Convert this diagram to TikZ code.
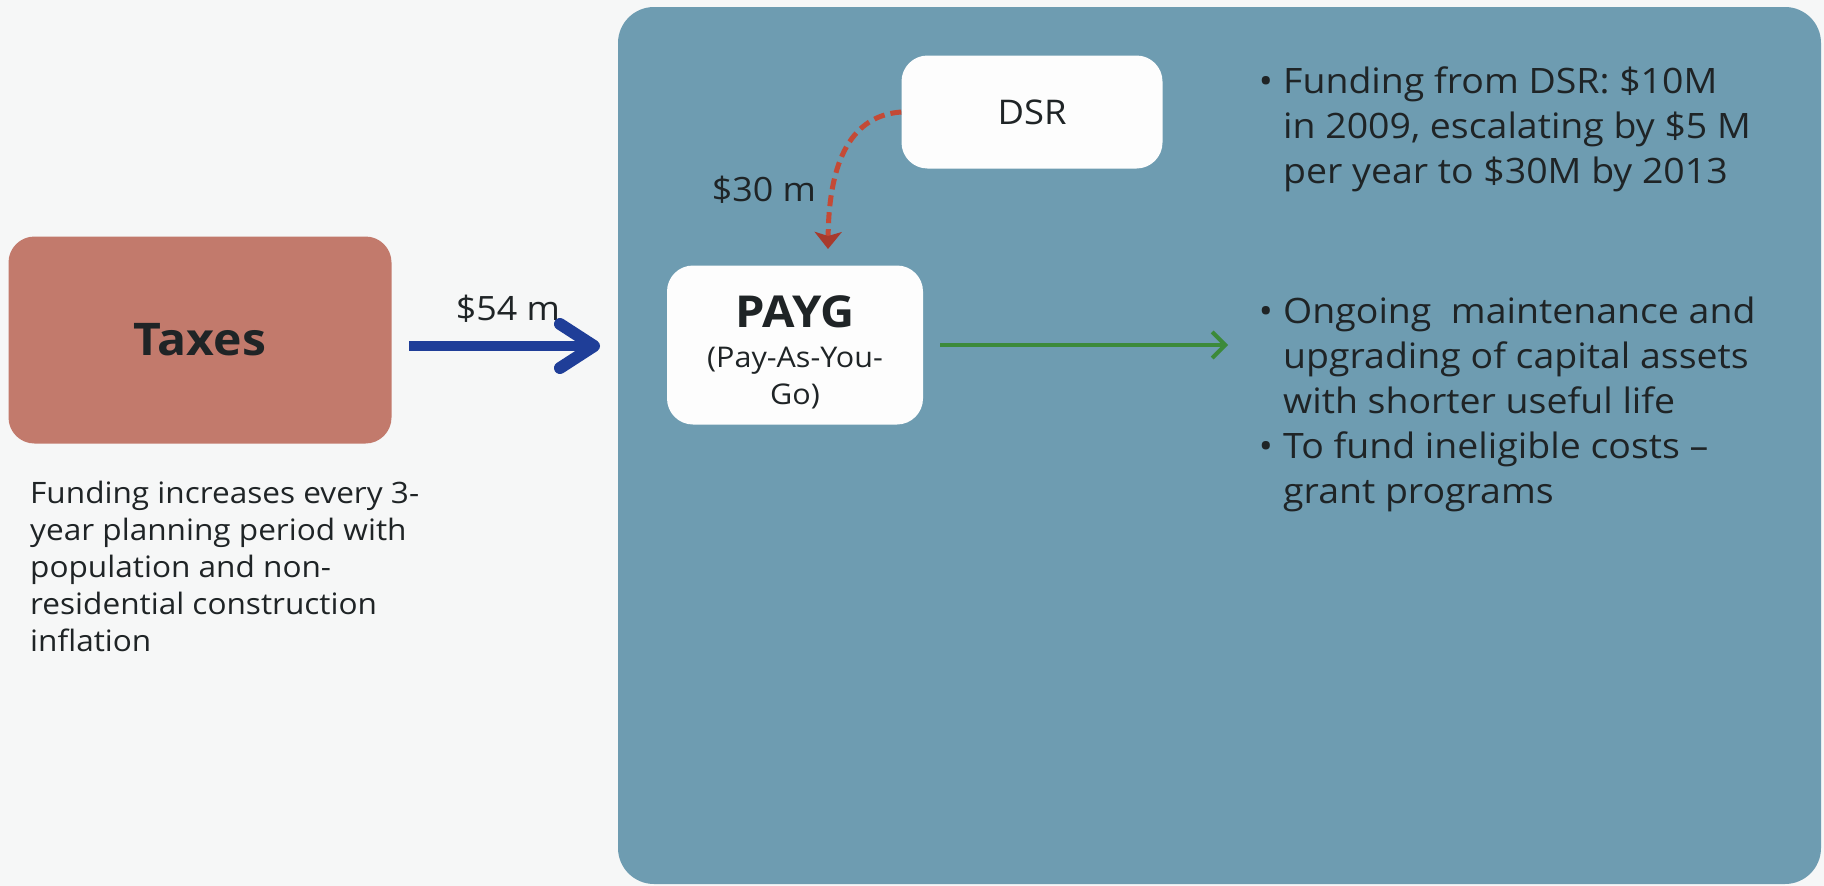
\documentclass[tikz,border=0pt]{standalone}
\usepackage{fontspec}
\setmainfont{Open Sans}[FakeStretch=1.07]
\usetikzlibrary{arrows.meta,calc}
\definecolor{bgc}{HTML}{F6F7F7}
\definecolor{panel}{HTML}{6E9CB1}
\definecolor{taxc}{HTML}{C27A6C}
\definecolor{boxw}{HTML}{FDFDFD}
\definecolor{txt}{HTML}{1F2426}
\definecolor{bluearr}{HTML}{1F3E98}
\definecolor{redarr}{HTML}{C44A36}
\definecolor{redhead}{HTML}{A83A2C}
\definecolor{greenarr}{HTML}{3C8A3A}
\newcommand\mylinesl[1]{\begin{tabular}[t]{@{}l@{}}#1\end{tabular}}
\newcommand\mylinesc[1]{\begin{tabular}[t]{@{}c@{}}#1\end{tabular}}
\tikzset{
  rbox/.style={rounded corners=26pt, inner sep=0pt, align=center, text=txt},
  plain/.style={inner sep=0pt, text=txt},
  bul/.style={inner sep=0pt, text=txt, anchor=base west,
     font=\fontsize{35}{45}\selectfont},
  dot/.style={inner sep=0pt, text=txt, anchor=base,
     font=\fontsize{35}{45}\selectfont},
}
\begin{document}
\begin{tikzpicture}[x=1pt,y=-1pt]
\useasboundingbox (0,0) rectangle (1824,886);
\fill[bgc] (0,0) rectangle (1824,886);
\fill[panel, rounded corners=36pt] (618,7) rectangle (1821,884);
% boxes
\node[rbox, fill=taxc, minimum width=383pt, minimum height=207pt,
      font=\fontsize{45}{50}\selectfont\bfseries] (tax) at (200,340) {Taxes};
\node[rbox, fill=boxw, minimum width=256pt, minimum height=159pt] (payg) at (795,345) {};
\node[plain, anchor=base, font=\fontsize{44}{50}\selectfont\bfseries] (paygt) at (795,327) {PAYG};
\node[plain, anchor=base, font=\fontsize{28.5}{37}\selectfont] (paygs) at (795,367)
  {\mylinesc{(Pay-As-You-\\Go)}};
\node[rbox, fill=boxw, minimum width=261pt, minimum height=113pt,
      font=\fontsize{34}{38}\selectfont] (dsr) at (1032,112) {DSR};
% labels
\node[plain, font=\fontsize{33.5}{38}\selectfont] (l54) at (508,309) {\$54 m};
\node[plain, font=\fontsize{33.5}{38}\selectfont] (l30) at (764,190) {\$30 m};
\node[plain, anchor=base west, font=\fontsize{29.5}{37}\selectfont] (fund) at (30,503)
  {\mylinesl{Funding increases every 3-\\year planning period with\\population and non-\\residential construction\\inflation}};
% bullets
\node[bul] (b1) at (1283,93) {\mylinesl{Funding from DSR: \$10M\\in 2009, escalating by \$5 M\\per year to \$30M by 2013}};
\node[bul] (b2) at (1283,323) {\mylinesl{Ongoing\ \ maintenance and\\upgrading of capital assets\\with shorter useful life}};
\node[bul] (b3) at (1283,458) {\mylinesl{To fund ineligible costs –\\grant programs}};
\node[dot] at (1266,93) {•};
\node[dot] at (1266,323) {•};
\node[dot] at (1266,458) {•};
% connectors
\coordinate (taxout) at (409,346);
\coordinate (paygin) at (600,346);
\draw[bluearr, line width=10pt,
      -{Straight Barb[length=34pt,width=44pt,line width=12pt,round]}] (taxout) -- (paygin);
\coordinate (redend) at (828,249);
\draw[redarr, line width=5pt, dash pattern=on 11pt off 6pt,
      -{Stealth[length=17pt,width=27pt,inset=4pt,color=redhead]}]
      (dsr.west) .. controls (858,115) and (829,150) .. (redend);
\coordinate (gstart) at (940,345);
\coordinate (gend) at (1228,345);
\draw[greenarr, line width=4pt, -{Straight Barb[length=13pt,width=26pt]}] (gstart) -- (gend);
\end{tikzpicture}
\end{document}
